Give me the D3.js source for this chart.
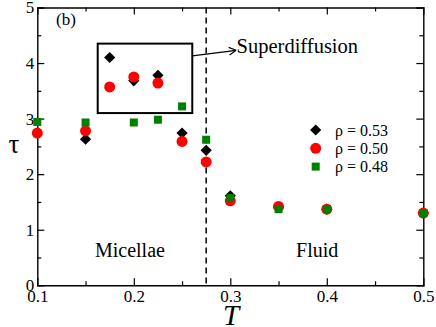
<!DOCTYPE html>
<html>
<head>
<meta charset="utf-8">
<script src="https://cdn.jsdelivr.net/npm/d3@7"></script>
<style>
    body { margin: 0; background: #fff; }
    svg text { font-family: "Liberation Serif", "Times New Roman", "DejaVu Serif", serif; fill: #000; }
    .axis path, .axis line { stroke: #000; }
</style>
</head>
<body>
<div id="chart"></div>
<script>
// temperatures and relaxation times for the three densities
const temps = [0.1, 0.15, 0.175, 0.2, 0.225, 0.25, 0.275, 0.3, 0.35, 0.4, 0.5];
const tau053 = [null, 2.63, 4.10, 3.68, 3.78, 2.74, 2.43, 1.61, 1.40, 1.37, 1.30];
const tau050 = [2.74, 2.78, 3.57, 3.75, 3.64, 2.59, 2.22, 1.52, 1.42, 1.37, 1.30];
const tau048 = [2.94, 2.93, null, 2.93, 2.98, 3.22, 2.62, 1.57, 1.37, 1.37, 1.30];

const xTicks = [0.1, 0.2, 0.3, 0.4, 0.5];
const xMinor = [0.15, 0.25, 0.35, 0.45];
const yTicks = [0, 1, 2, 3, 4, 5];
const yMinor = [0.5, 1.5, 2.5, 3.5, 4.5];

const legendLabels = ['ρ = 0.53', 'ρ = 0.50', 'ρ = 0.48'];
const transitionT = 0.275;

const W = 436, H = 327;
const margin = {left: 37.3, right: 12.7, top: 7.5, bottom: 41.7};

const svg = d3.select('#chart').append('svg')
    .attr('width', W)
    .attr('height', H);

const x = d3.scaleLinear().domain([0.1, 0.5]).range([margin.left, W - margin.right]);
const y = d3.scaleLinear().domain([0, 5]).range([H - margin.bottom, margin.top]);

function drawAxis(axisFn, scale, ticks, minor, transform, showLabels) {
    const g = svg.append('g').attr('class', 'axis').attr('transform', transform);
    g.call(axisFn(scale).tickValues(ticks).tickSize(-7).tickPadding(showLabels ? 12 : 0)
        .tickFormat(showLabels ? d3.format('') : ''));
    g.attr('font-family', null);
    g.selectAll('.tick').filter(function(d) { return d === scale.domain()[0] || d === scale.domain()[1]; })
        .select('line').remove();
    g.select('.domain').attr('stroke-width', 1.4);
    g.selectAll('.tick line').attr('stroke-width', 1.2);
    g.selectAll('text').attr('font-size', 17);
    const gm = svg.append('g').attr('class', 'axis').attr('transform', transform);
    gm.call(axisFn(scale).tickValues(minor).tickSize(-4).tickFormat(''));
    gm.select('.domain').remove();
    gm.selectAll('.tick line').attr('stroke-width', 1.2);
    return g;
}

const gx = drawAxis(d3.axisBottom, x, xTicks, xMinor, 'translate(0,' + y(0) + ')', true);
gx.selectAll('text').attr('dy', '0.71em').attr('y', 5);
drawAxis(d3.axisTop, x, xTicks, xMinor, 'translate(0,' + y(5) + ')', false);
const gy = drawAxis(d3.axisLeft, y, yTicks, yMinor, 'translate(' + x(0.1) + ',0)', true);
gy.selectAll('text').attr('x', -3);
drawAxis(d3.axisRight, y, yTicks, yMinor, 'translate(' + x(0.5) + ',0)', false);

// dashed transition line
svg.append('line')
    .attr('x1', x(transitionT)).attr('x2', x(transitionT))
    .attr('y1', y(5)).attr('y2', y(0))
    .attr('stroke', '#000').attr('stroke-width', 1.5)
    .attr('stroke-dasharray', '6,4');

// superdiffusion box and arrow
svg.append('rect')
    .attr('x', x(0.1626)).attr('y', y(4.35))
    .attr('width', x(0.2606) - x(0.1626)).attr('height', y(3.10) - y(4.35))
    .attr('fill', 'none').attr('stroke', '#000').attr('stroke-width', 2);

const ax1 = x(0.2606), ay1 = y(4.13), ax2 = x(0.306), ay2 = y(4.23);
svg.append('line')
    .attr('x1', ax1).attr('y1', ay1).attr('x2', ax2).attr('y2', ay2)
    .attr('stroke', '#000').attr('stroke-width', 1.2);
const ang = Math.atan2(ay2 - ay1, ax2 - ax1);
[-1, 1].forEach(function(s) {
    svg.append('line')
        .attr('x1', ax2).attr('y1', ay2)
        .attr('x2', ax2 - 8 * Math.cos(ang + s * 0.5))
        .attr('y2', ay2 - 8 * Math.sin(ang + s * 0.5))
        .attr('stroke', '#000').attr('stroke-width', 1.2);
});
svg.append('text')
    .attr('x', ax2 + 0.5).attr('y', 53)
    .attr('font-size', 20.5)
    .text('Superdiffusion');

// series
const diamond = function(r) { return 'M0,' + (-r) + 'L' + r + ',0L0,' + r + 'L' + (-r) + ',0Z'; };
const series = [
    {values: tau053, color: '#000000', shape: 'diamond'},
    {values: tau050, color: '#ff0000', shape: 'circle'},
    {values: tau048, color: '#008000', shape: 'square'}
];

function drawMarker(g, shape, color) {
    if (shape === 'diamond') {
        g.append('path').attr('d', diamond(5.6)).attr('fill', color);
    } else if (shape === 'circle') {
        g.append('circle').attr('r', 5.5).attr('fill', color);
    } else {
        g.append('rect').attr('x', -4).attr('y', -4).attr('width', 8).attr('height', 8).attr('fill', color);
    }
}

series.forEach(function(s) {
    const pts = temps.map(function(t, i) { return {t: t, v: s.values[i]}; })
        .filter(function(d) { return d.v !== null; });
    svg.append('g').selectAll('g')
        .data(pts)
        .join('g')
        .attr('transform', function(d) { return 'translate(' + x(d.t) + ',' + y(d.v) + ')'; })
        .each(function() { drawMarker(d3.select(this), s.shape, s.color); });
});

// legend
series.forEach(function(s, i) {
    const ly = 130 + i * 18.3;
    const g = svg.append('g').attr('transform', 'translate(315.7,' + ly + ')');
    drawMarker(g, s.shape, s.color);
    svg.append('text')
        .attr('x', 335).attr('y', ly).attr('dy', '0.35em')
        .attr('font-size', 16)
        .text(legendLabels[i]);
});

// annotations
svg.append('text').attr('x', 56).attr('y', 24.5).attr('font-size', 17).text('(b)');
svg.append('text').attr('x', x(0.196)).attr('y', 257).attr('text-anchor', 'middle')
    .attr('font-size', 20).text('Micellae');
svg.append('text').attr('x', x(0.39)).attr('y', 257).attr('text-anchor', 'middle')
    .attr('font-size', 20).text('Fluid');

// axis titles
svg.append('text').attr('x', 14).attr('y', 153).attr('text-anchor', 'middle')
    .attr('font-size', 27).text('τ');
svg.append('text').attr('x', 231).attr('y', 325).attr('text-anchor', 'middle')
    .attr('font-size', 29).attr('font-style', 'italic').text('T');
</script>
</body>
</html>
